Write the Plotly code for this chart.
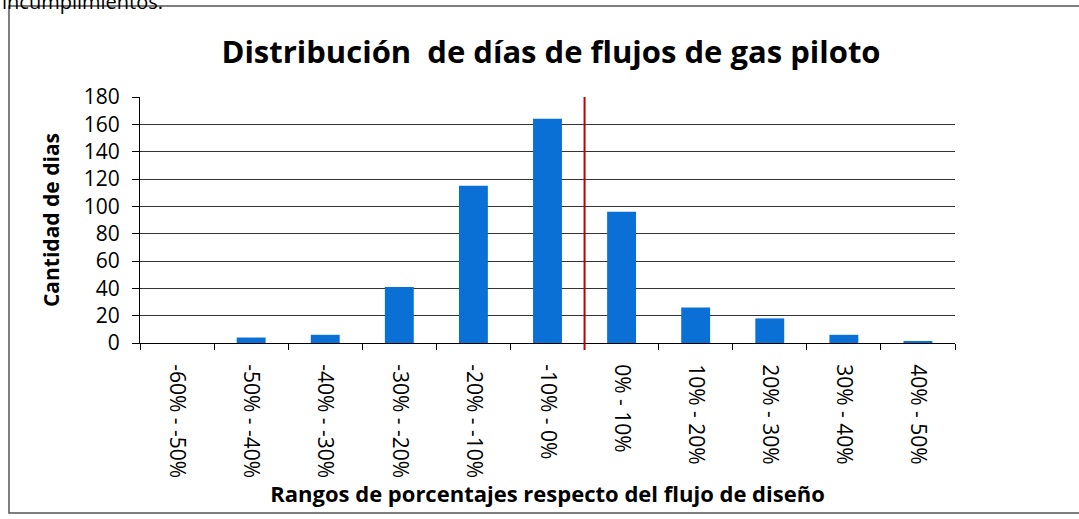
import plotly.graph_objects as go

categories = ["-60% - -50%", "-50% - -40%", "-40% - -30%", "-30% - -20%", "-20% - -10%",
              "-10% - 0%", "0% - 10%", "10% - 20%", "20% - 30%", "30% - 40%", "40% - 50%"]
dias = [0, 4, 6, 41, 115, 164, 96, 26, 18, 6, 1]
y_ticks = [0, 20, 40, 60, 80, 100, 120, 140, 160, 180]

W, H = 1079, 519
L, R, T, B = 140, 955, 97, 343
pw, ph = R - L, B - T

def px(x):
    return (x - L) / pw

def py(y):
    return (B - y) / ph

FONT = "Open Sans"

fig = go.Figure()
fig.add_trace(go.Bar(x=categories, y=dias, marker_color="#0a70d6",
                     marker_line_width=0, width=0.39))

fig.update_layout(
    width=W, height=H,
    margin=dict(l=L, r=W - R, t=T, b=H - B),
    paper_bgcolor="white", plot_bgcolor="white",
    showlegend=False,
    font=dict(family=FONT, color="black"),
    title=dict(text="<b>Distribución  de días de flujos de gas piloto</b>",
               x=551 / W, xanchor="center", y=1 - 52 / H, yanchor="middle",
               font=dict(size=31, family=FONT, color="black")),
    xaxis=dict(type="category", tickangle=90, tickfont=dict(size=21),
               ticks="outside", tickson="boundaries", ticklen=6, tickcolor="black",
               showline=True, linecolor="black", linewidth=1, showgrid=False,
               ticklabelstandoff=16,
               title=dict(text="<b>Rangos de porcentajes respecto del flujo de diseño</b>",
                          font=dict(size=22), standoff=2),
               range=[-0.5, 10.5]),
    yaxis=dict(range=[0, 180], tickvals=y_ticks, tickfont=dict(size=21),
               ticks="outside", ticklen=7, tickcolor="black", ticklabelstandoff=8,
               showline=True, linecolor="black", linewidth=1,
               showgrid=True, gridcolor="#333333", gridwidth=1, zeroline=False,
               title=dict(text="<b>Cantidad de dias</b>", font=dict(size=21), standoff=18)),
    bargap=0.61,
)

# red reference line between "-10% - 0%" and "0% - 10%"
fig.add_shape(type="line", xref="x", yref="paper", x0=5.5, x1=5.5,
              y0=py(350), y1=1, line=dict(color="#c00000", width=2))

# outer border
fig.add_shape(type="rect", xref="paper", yref="paper",
              x0=px(9), x1=px(1100), y0=py(513), y1=py(6),
              line=dict(color="#555555", width=1.5), fillcolor="rgba(0,0,0,0)")

# cut-off text above the chart frame
fig.add_annotation(text="incumplimientos.", xref="paper", yref="paper",
                   x=px(0), y=py(2), xanchor="left", yanchor="middle",
                   showarrow=False, font=dict(size=20, family=FONT, color="black"))

fig.write_html("out.html", config={"displayModeBar": False},
               post_script="document.body.style.margin='0';")
